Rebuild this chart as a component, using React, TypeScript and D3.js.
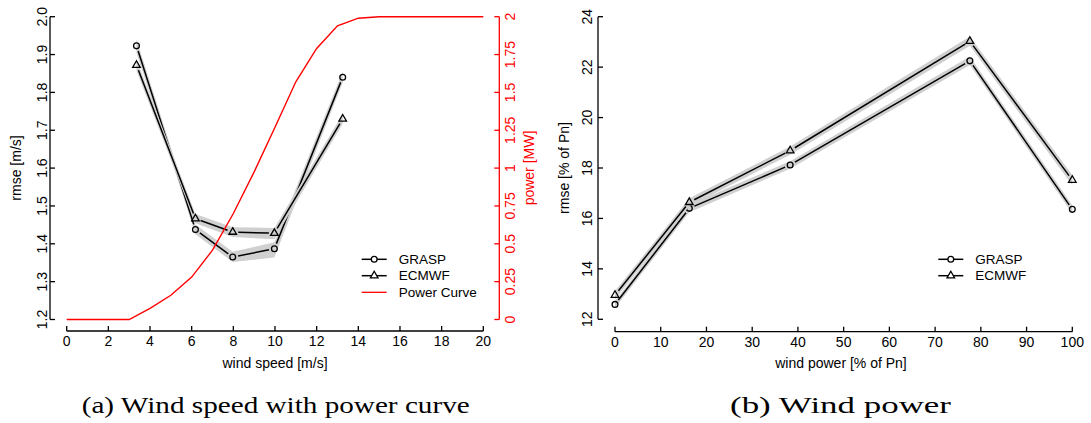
import React from "react";
import * as d3 from "d3";

// ---------- Data: (a) wind speed ----------
const speedX = [3.35, 6.18, 7.97, 9.97, 13.25];
const graspSpeed = [1.923, 1.4375, 1.365, 1.387, 1.84];
const graspSpeedLo = [1.905, 1.425, 1.352, 1.364, 1.826];
const graspSpeedHi = [1.94, 1.451, 1.379, 1.404, 1.856];
const ecmwfSpeed = [1.872, 1.4665, 1.431, 1.428, 1.73];
const ecmwfSpeedLo = [1.857, 1.454, 1.418, 1.412, 1.717];
const ecmwfSpeedHi = [1.887, 1.479, 1.444, 1.442, 1.743];

const curveX = [0, 1, 2, 3, 4, 5, 6, 7, 8, 9, 10, 11, 12, 13, 14, 15, 16, 17, 18, 19, 20];
const curveP = [0, 0, 0, 0, 0.073, 0.16, 0.28, 0.458, 0.7, 0.975, 1.27, 1.57, 1.79, 1.94, 1.99, 2.0, 2.0, 2.0, 2.0, 2.0, 2.0];

const speedTicks = [0, 2, 4, 6, 8, 10, 12, 14, 16, 18, 20];
const rmseSpeedTicks = [1.2, 1.3, 1.4, 1.5, 1.6, 1.7, 1.8, 1.9, 2.0];
const powerTicks = [0, 0.25, 0.5, 0.75, 1, 1.25, 1.5, 1.75, 2];
const powerTickLabels = ["0", "0.25", "0.5", "0.75", "1", "1.25", "1.5", "1.75", "2"];

// ---------- Data: (b) wind power ----------
const powX = [0, 16.25, 38.3, 77.6, 100];
const graspPow = [12.59, 16.4, 18.12, 22.25, 16.36];
const graspPowLo = [12.45, 16.25, 17.97, 22.08, 16.2];
const graspPowHi = [12.73, 16.55, 18.27, 22.42, 16.52];
const ecmwfPow = [12.96, 16.64, 18.69, 23.03, 17.52];
const ecmwfPowLo = [12.8, 16.48, 18.53, 22.85, 17.32];
const ecmwfPowHi = [13.12, 16.8, 18.85, 23.21, 17.72];

const powXTicks = [0, 10, 20, 30, 40, 50, 60, 70, 80, 90, 100];
const rmsePowTicks = [12, 14, 16, 18, 20, 22, 24];

const FONT = "'Liberation Sans', Arial, Helvetica, sans-serif";
const GAP = 5.5;

type Pt = [number, number];

function gappedSegments(pts: Pt[], gap: number): string {
  let d = "";
  for (let i = 0; i < pts.length - 1; i++) {
    const [x1, y1] = pts[i];
    const [x2, y2] = pts[i + 1];
    const dx = x2 - x1, dy = y2 - y1;
    const L = Math.hypot(dx, dy);
    if (L <= 2 * gap) continue;
    const ux = dx / L, uy = dy / L;
    d += `M${x1 + ux * gap},${y1 + uy * gap}L${x2 - ux * gap},${y2 - uy * gap}`;
  }
  return d;
}

function Circle({ x, y }: { x: number; y: number }) {
  return <circle cx={x} cy={y} r={2.9} fill="none" stroke="#000" strokeWidth={1.3} />;
}
function Tri({ x, y }: { x: number; y: number }) {
  const s = 7.6;
  const h = (s * Math.sqrt(3)) / 2;
  const d = `M${x},${y - (2 * h) / 3}L${x + s / 2},${y + h / 3}L${x - s / 2},${y + h / 3}Z`;
  return <path d={d} fill="none" stroke="#000" strokeWidth={1.3} strokeLinejoin="miter" />;
}

function Series({
  xs, ys, lo, hi, sx, sy, marker,
}: {
  xs: number[]; ys: number[]; lo: number[]; hi: number[];
  sx: d3.ScaleLinear<number, number>; sy: d3.ScaleLinear<number, number>;
  marker: "circle" | "tri";
}) {
  const idx = xs.map((_, i) => i);
  const area = d3.area<number>()
    .x((i) => sx(xs[i]))
    .y0((i) => sy(lo[i]))
    .y1((i) => sy(hi[i]));
  const pts: Pt[] = idx.map((i) => [sx(xs[i]), sy(ys[i])]);
  return (
    <g>
      <path d={area(idx) || ""} fill="#d0d0d0" stroke="none" />
      <path d={gappedSegments(pts, GAP)} fill="none" stroke="#000" strokeWidth={1.5} />
      {pts.map(([x, y], i) =>
        marker === "circle" ? <Circle key={i} x={x} y={y} /> : <Tri key={i} x={x} y={y} />
      )}
    </g>
  );
}

function BottomAxis({ scale, ticks, y, fmt }: { scale: d3.ScaleLinear<number, number>; ticks: number[]; y: number; fmt?: (v: number) => string }) {
  const x0 = scale(ticks[0]), x1 = scale(ticks[ticks.length - 1]);
  return (
    <g>
      <line x1={x0} x2={x1} y1={y} y2={y} stroke="#000" strokeWidth={1.3} />
      {ticks.map((t) => (
        <g key={t}>
          <line x1={scale(t)} x2={scale(t)} y1={y} y2={y - 5} stroke="#000" strokeWidth={1.3} />
          <text x={scale(t)} y={y + 15} textAnchor="middle" fontFamily={FONT} fontSize={14} fill="#000">
            {fmt ? fmt(t) : String(t)}
          </text>
        </g>
      ))}
    </g>
  );
}

function LeftAxis({ scale, ticks, x, labels, color = "#000", dir = 1, labelX }: {
  scale: d3.ScaleLinear<number, number>; ticks: number[]; x: number; labels: string[]; color?: string; dir?: number; labelX: number;
}) {
  const y0 = scale(ticks[0]), y1 = scale(ticks[ticks.length - 1]);
  return (
    <g>
      <line x1={x} x2={x} y1={y0} y2={y1} stroke={color} strokeWidth={1.3} />
      {ticks.map((t, i) => (
        <g key={t}>
          <line x1={x} x2={x + dir * 5} y1={scale(t)} y2={scale(t)} stroke={color} strokeWidth={1.3} />
          <text
            transform={`translate(${labelX},${scale(t)}) rotate(-90)`}
            textAnchor="middle"
            fontFamily={FONT}
            fontSize={14}
            fill={color}
          >
            {labels[i]}
          </text>
        </g>
      ))}
    </g>
  );
}

export default function App() {
  // (a)
  const xA = d3.scaleLinear().domain([0, 20]).range([66.7, 483.3]);
  const yA = d3.scaleLinear().domain([1.2, 2.0]).range([319.5, 16.7]);
  const pA = d3.scaleLinear().domain([0, 2]).range([319.5, 16.7]);
  // (b)
  const xB = d3.scaleLinear().domain([0, 100]).range([615, 1072.3]);
  const yB = d3.scaleLinear().domain([12, 24]).range([319.3, 16.7]);

  const powerLine = d3.line<number>().x((i) => xA(curveX[i])).y((i) => pA(curveP[i]));

  const legendA = [
    { label: "GRASP", kind: "circle", y: 259.3 },
    { label: "ECMWF", kind: "tri", y: 275.7 },
    { label: "Power Curve", kind: "red", y: 292.3 },
  ];
  const legendB = [
    { label: "GRASP", kind: "circle", y: 259.3 },
    { label: "ECMWF", kind: "tri", y: 275.7 },
  ];

  const renderLegend = (items: { label: string; kind: string; y: number }[], lx: number) =>
    items.map((it) => (
      <g key={it.label}>
        <line x1={lx} x2={lx + 25} y1={it.y} y2={it.y} stroke={it.kind === "red" ? "#ff0000" : "#000"} strokeWidth={it.kind === "red" ? 1.3 : 1.5} />
        {it.kind === "circle" && <circle cx={lx + 12.5} cy={it.y} r={2.9} fill="#fff" stroke="#000" strokeWidth={1.3} />}
        {it.kind === "tri" && (
          <g>
            <path
              d={`M${lx + 12.5},${it.y - 4.4}L${lx + 16.3},${it.y + 2.2}L${lx + 8.7},${it.y + 2.2}Z`}
              fill="#fff" stroke="#000" strokeWidth={1.3}
            />
          </g>
        )}
        <text x={lx + 37} y={it.y + 4.7} fontFamily={FONT} fontSize={13.5} fill="#000">{it.label}</text>
      </g>
    ));

  return (
    <svg width={1091} height={423} style={{ position: "absolute", left: 0, top: 0, background: "#fff" }}>
      <rect x={0} y={0} width={1091} height={423} fill="#fff" />
      {/* ---------- (a) ---------- */}
      <g>
        <Series xs={speedX} ys={graspSpeed} lo={graspSpeedLo} hi={graspSpeedHi} sx={xA} sy={yA} marker="circle" />
        <Series xs={speedX} ys={ecmwfSpeed} lo={ecmwfSpeedLo} hi={ecmwfSpeedHi} sx={xA} sy={yA} marker="tri" />
        <path d={powerLine(curveX.map((_, i) => i)) || ""} fill="none" stroke="#ff0000" strokeWidth={1.4} />
        <BottomAxis scale={xA} ticks={speedTicks} y={331} />
        <LeftAxis scale={yA} ticks={rmseSpeedTicks} x={50} labels={rmseSpeedTicks.map((v) => v.toFixed(1))} labelX={46.5} />
        <LeftAxis scale={pA} ticks={powerTicks} x={499.3} labels={powerTickLabels} color="#ff0000" dir={-1} labelX={515} />
        <text transform={`translate(21,168) rotate(-90)`} textAnchor="middle" fontFamily={FONT} fontSize={14} fill="#000">rmse [m/s]</text>
        <text transform={`translate(533.5,168) rotate(-90)`} textAnchor="middle" fontFamily={FONT} fontSize={14} fill="#ff0000">power [MW]</text>
        <text x={275} y={368} textAnchor="middle" fontFamily={FONT} fontSize={14} fill="#000">wind speed [m/s]</text>
        {renderLegend(legendA, 361.7)}
        <text x={81.7} y={413.3} fontFamily="'Liberation Serif', 'Times New Roman', serif" fontSize={24} fill="#000" textLength={388} lengthAdjust="spacingAndGlyphs">(a) Wind speed with power curve</text>
      </g>
      {/* ---------- (b) ---------- */}
      <g>
        <Series xs={powX} ys={graspPow} lo={graspPowLo} hi={graspPowHi} sx={xB} sy={yB} marker="circle" />
        <Series xs={powX} ys={ecmwfPow} lo={ecmwfPowLo} hi={ecmwfPowHi} sx={xB} sy={yB} marker="tri" />
        <BottomAxis scale={xB} ticks={powXTicks} y={331.7} />
        <LeftAxis scale={yB} ticks={rmsePowTicks} x={598} labels={rmsePowTicks.map(String)} labelX={592} />
        <text transform={`translate(569,168) rotate(-90)`} textAnchor="middle" fontFamily={FONT} fontSize={14} fill="#000">rmse [% of Pn]</text>
        <text x={841} y={368} textAnchor="middle" fontFamily={FONT} fontSize={14} fill="#000">wind power [% of Pn]</text>
        {renderLegend(legendB, 938.3)}
        <text x={730} y={413.3} fontFamily="'Liberation Serif', 'Times New Roman', serif" fontSize={24} fill="#000" textLength={221} lengthAdjust="spacingAndGlyphs">(b) Wind power</text>
      </g>
    </svg>
  );
}
